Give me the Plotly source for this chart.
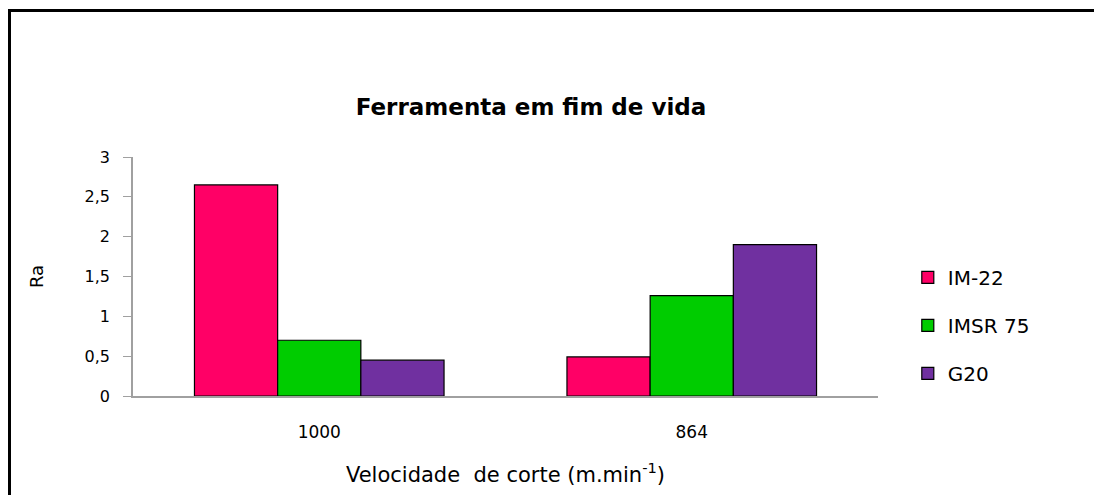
import plotly.graph_objects as go

categories = ["1000", "864"]
series_names = ["IM-22", "IMSR 75", "G20"]
im22 = [2.65, 0.49]
imsr75 = [0.70, 1.26]
g20 = [0.45, 1.90]
colors = ["#FF0066", "#00CC00", "#7030A0"]
y_ticks = [0, 0.5, 1, 1.5, 2, 2.5, 3]

fig = go.Figure()
for name, vals, col in zip(series_names, [im22, imsr75, g20], colors):
    fig.add_trace(go.Bar(
        x=categories, y=vals, name=name, legendgroup=name,
        marker=dict(color=col, line=dict(color="black", width=1.2)),
    ))

font_family = "DejaVu Sans, Verdana, sans-serif"
fig.update_layout(
    width=1094, height=495,
    margin=dict(l=133, r=216, t=157, b=99),
    paper_bgcolor="white", plot_bgcolor="white",
    separators=",.",
    barmode="group", bargap=0.33, bargroupgap=0,
    font=dict(family=font_family, color="black", size=16),
    title=dict(text="<b>Ferramenta em fim de vida</b>", x=0.4854, xanchor="center",
               y=0.784, yanchor="middle", yref="container",
               font=dict(size=23, family=font_family, color="black")),
    legend=dict(x=1.040, xanchor="left", y=0.578, yanchor="top",
                font=dict(size=20), traceorder="grouped", tracegroupgap=19,
                bgcolor="rgba(0,0,0,0)"),
    xaxis=dict(showline=True, linecolor="#A0A0A0", linewidth=1.5, ticks="",
               showgrid=False, ticklabelstandoff=20,
               tickfont=dict(size=17),
               title=dict(text="Velocidade  de corte (m.min<sup>-1</sup>)",
                          font=dict(size=21), standoff=26)),
    yaxis=dict(range=[0, 3], tickvals=y_ticks, showline=True, linecolor="#A0A0A0",
               linewidth=1.5, ticks="outside", ticklen=8, tickcolor="#A0A0A0",
               showgrid=False, zeroline=False, tickfont=dict(size=16),
               ticklabelstandoff=10,
               title=dict(text="Ra", font=dict(size=18), standoff=36)),
)

# outer chart frame: only its top and left edges fall inside the image
frame = dict(type="line", xref="paper", yref="paper",
             xsizemode="pixel", ysizemode="pixel", xanchor=0, yanchor=1,
             line=dict(color="black", width=3), layer="below")
fig.add_shape(**frame, x0=-125, x1=1200, y0=146.5, y1=146.5)
fig.add_shape(**frame, x0=-123.5, x1=-123.5, y0=148, y1=-600)

fig.write_html("out.html", config={"displayModeBar": False},
               post_script="document.body.style.margin='0';document.body.style.overflow='hidden';")
